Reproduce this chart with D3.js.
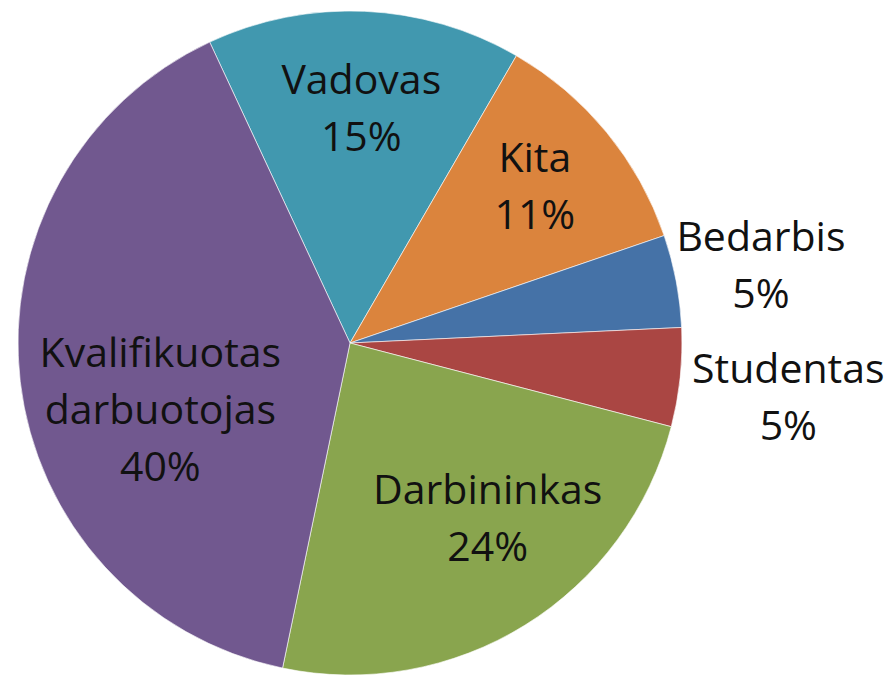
<!DOCTYPE html>
<html>
<head>
<meta charset="utf-8">
<script src="https://cdn.jsdelivr.net/npm/d3@7.9.0/dist/d3.min.js"></script>
<style>
  html, body { margin: 0; padding: 0; background: #fff; }
  svg { display: block; }
</style>
</head>
<body>
<svg id="pie-chart"></svg>
<script>
// slice data, in drawing order (clockwise from the first slice)
const categories = ["Vadovas", "Kita", "Bedarbis", "Studentas", "Darbininkas", "Kvalifikuotas darbuotojas"];
const shares = [15.3, 11.4, 4.5, 4.8, 24.2, 39.8];
const labelLines = [["Vadovas"], ["Kita"], ["Bedarbis"], ["Studentas"], ["Darbininkas"], ["Kvalifikuotas", "darbuotojas"]];

const colors = ["#4198AF", "#DB843D", "#4572A7", "#AA4643", "#89A54E", "#71588F"];

// label placement: radius as a fraction of the pie radius, angle nudge in degrees
const labelRadius = [0.71, 0.73, 1.26, 1.33, 0.67, 0.605];
const labelNudge = [0.2, -0.9, 0, 1, -6.4, -12.6];

const svgWidth = 891;
const svgHeight = 677;
const cx = 350;
const cy = 343;
const radius = 332;
const firstAngle = -25; // degrees, clockwise from 12 o'clock
const fontSize = 41;
const lineStep = 57;
const capHalf = 14.5;

const svg = d3.select("#pie-chart")
    .attr("width", svgWidth)
    .attr("height", svgHeight);

const g = svg.append("g")
    .attr("transform", `translate(${cx}, ${cy})`);

const data = categories.map((c, i) => ({ name: c, value: shares[i], i: i }));

const start = firstAngle * Math.PI / 180;
const pie = d3.pie()
    .sort(null)
    .value(d => d.value)
    .startAngle(start)
    .endAngle(start + 2 * Math.PI);

const arc = d3.arc()
    .innerRadius(0)
    .outerRadius(radius);

const arcs = pie(data);

g.selectAll(".slice")
    .data(arcs)
    .enter()
    .append("path")
    .attr("class", "slice")
    .attr("d", arc)
    .attr("fill", d => colors[d.data.i])
    .attr("stroke", "#ffffff")
    .attr("stroke-opacity", 0.6)
    .attr("stroke-width", 1);

// labels
const labels = g.selectAll(".label")
    .data(arcs)
    .enter()
    .append("text")
    .attr("class", "label")
    .attr("text-anchor", "middle")
    .style("font-family", "'Open Sans', 'Noto Sans', sans-serif")
    .style("font-size", fontSize + "px")
    .attr("fill", "#111");

labels.each(function(d) {
    const i = d.data.i;
    const mid = (d.startAngle + d.endAngle) / 2 + labelNudge[i] * Math.PI / 180;
    const r = radius * labelRadius[i];
    const x = r * Math.sin(mid);
    const y = -r * Math.cos(mid);
    const lines = labelLines[i].concat([Math.round(d.data.value) + "%"]);
    const y0 = y - (lines.length - 1) * lineStep / 2 + capHalf;
    const t = d3.select(this);
    lines.forEach((line, k) => {
        t.append("tspan")
            .attr("x", x)
            .attr("y", y0 + k * lineStep)
            .text(line);
    });
});
</script>
</body>
</html>
